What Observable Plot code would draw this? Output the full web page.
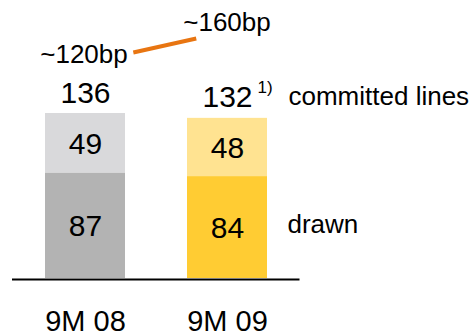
<!DOCTYPE html>
<html>
<head>
<meta charset="utf-8">
<script src="https://cdn.jsdelivr.net/npm/d3@7"></script>
<script src="https://cdn.jsdelivr.net/npm/@observablehq/plot@0.6"></script>
<style>
  html, body { margin: 0; padding: 0; background: #fff; }
  #chart { position: relative; width: 474px; height: 336px; }
  #chart svg { position: absolute; left: 0; top: 0; }
</style>
</head>
<body>
<div id="chart"></div>
<script>
// ---- data ----
const periods = ["9M 08", "9M 09"];
const drawn = [87, 84];
const committed = [49, 48];
const totals = [136, 132];
const totalNotes = ["", "1)"];
const seriesNames = ["drawn", "committed lines"];
const spreadValues = [120, 160];
const spreadLabels = ["~120bp", "~160bp"];

// ---- colours ----
const colors = {
  "9M 08": {drawn: "#b3b3b3", committed: "#d9d9db"},
  "9M 09": {drawn: "#ffcc33", committed: "#ffe391"}
};

const font = "Liberation Sans, Arial, sans-serif";
const xScale = {domain: periods, range: [12, 299.5], paddingInner: 0.4386, paddingOuter: 0.228, axis: null};

const segs = [];
periods.forEach((p, i) => {
  segs.push({period: p, series: "drawn", y1: 0, y2: drawn[i], value: drawn[i], fill: colors[p].drawn});
  segs.push({period: p, series: "committed", y1: drawn[i], y2: drawn[i] + committed[i], value: committed[i], fill: colors[p].committed});
});
const tots = periods.map((p, i) => ({period: p, total: totals[i], note: totalNotes[i]}));
const last = periods.length - 1;
const legendRows = [
  {period: periods[last], label: seriesNames[0], y: drawn[last] / 2, anchor: "middle"},
  {period: periods[last], label: seriesNames[1], y: totals[last], anchor: "bottom"}
];

const main = Plot.plot({
  width: 474,
  height: 336,
  margin: 0,
  x: xScale,
  y: {domain: [0, 136], range: [278, 113], axis: null},
  style: {fontFamily: font, background: "transparent"},
  marks: [
    Plot.rectY(segs, {x: "period", y1: "y1", y2: "y2", fill: "fill"}),
    Plot.text(segs, {x: "period", y: d => (d.y1 + d.y2) / 2, text: d => String(d.value),
      fontSize: 30, fill: "#000", lineAnchor: "middle", dy: 1}),
    Plot.text(tots, {x: "period", y: "total", text: d => String(d.total), fontSize: 30,
      lineAnchor: "bottom", dy: -11, fill: "#000"}),
    Plot.text(tots.filter(d => d.note), {x: "period", y: "total", text: "note", fontSize: 17,
      lineAnchor: "bottom", textAnchor: "start", dx: 30, dy: -25, fill: "#000"}),
    Plot.text(legendRows.filter(d => d.anchor === "middle"), {x: "period", y: "y", text: "label", fontSize: 26,
      textAnchor: "start", lineAnchor: "middle", dx: 60, dy: -3, fill: "#000"}),
    Plot.text(legendRows.filter(d => d.anchor === "bottom"), {x: "period", y: "y", text: "label", fontSize: 26,
      textAnchor: "start", lineAnchor: "bottom", dx: 61, dy: -13, fill: "#000"}),
    Plot.text(periods, {x: d => d, frameAnchor: "bottom", text: d => d, fontSize: 29,
      lineAnchor: "bottom", dy: -6, fill: "#000"})
  ]
});

// axis baseline spanning the band scale range
const base = Plot.plot({
  width: 474, height: 336, margin: 0,
  x: {domain: [0, 1], range: [12, 299.5], axis: null},
  y: {domain: [0, 136], range: [278, 113], axis: null},
  style: {background: "transparent"},
  marks: [Plot.ruleY([0], {x1: 0, x2: 1, stroke: "#000", strokeWidth: 2, dy: 1})]
});

const spread = spreadValues.map((v, i) => ({period: periods[i], bp: v, label: spreadLabels[i]}));
const overlay = Plot.plot({
  width: 474,
  height: 336,
  margin: 0,
  x: xScale,
  y: {domain: [120, 160], range: [62.8, 31.1], axis: null},
  style: {fontFamily: font, background: "transparent"},
  marks: [
    Plot.arrow([spread], {x1: d => d[0].period, y1: d => d[0].bp, x2: d => d[1].period, y2: d => d[1].bp,
      stroke: "#e87511", strokeWidth: 4, headLength: 0, insetStart: 50, insetEnd: 32, strokeLinecap: "butt"}),
    Plot.text(spread, {x: "period", y: "bp", text: "label", fontSize: 26, lineAnchor: "bottom",
      dx: d => d.bp === spreadValues[0] ? 0 : -2.5, dy: d => d.bp === spreadValues[0] ? -1 : -3, fill: "#000"})
  ]
});

document.getElementById("chart").append(main, base, overlay);
</script>
</body>
</html>
